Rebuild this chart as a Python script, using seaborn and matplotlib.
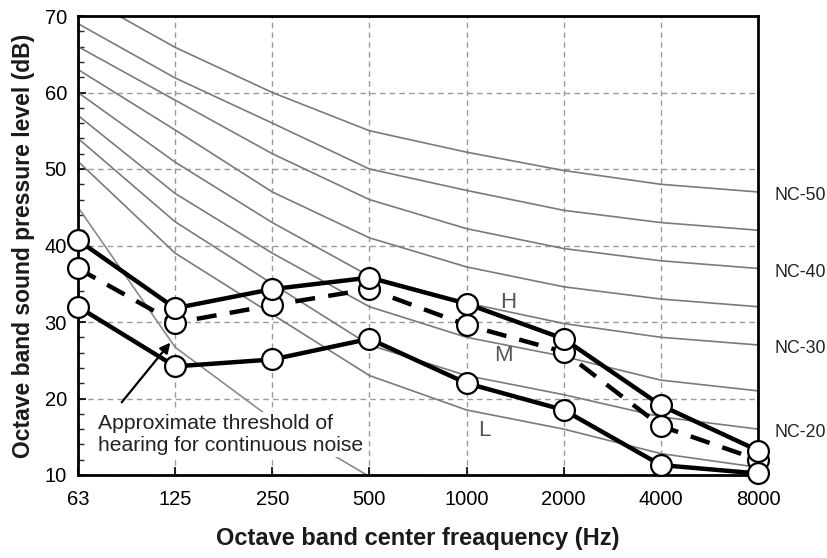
import matplotlib
matplotlib.use("Agg")
import matplotlib.pyplot as plt
import matplotlib.transforms as mtransforms
from matplotlib.ticker import MultipleLocator, FixedLocator
import numpy as np
import pandas as pd
import seaborn as sns

# ---------------- data ----------------
freq_labels = ["63", "125", "250", "500", "1000", "2000", "4000", "8000"]

nc15 = [51, 39, 31, 23, 18.5, 16, 12.8, 11]
nc20 = [54, 43.1, 35, 27, 23, 20.5, 17.6, 16]
nc25 = [57, 46.8, 39, 32, 28, 25.5, 22.4, 21]
nc30 = [60, 50.9, 43, 36, 32.5, 29.8, 28, 27]
nc35 = [63, 55.1, 47, 41, 37.2, 34.6, 33, 32]
nc40 = [66, 59.0, 52, 46, 42.2, 39.6, 38, 37]
nc45 = [69, 61.9, 56, 50, 47.2, 44.6, 43, 42]
nc50 = [73, 65.9, 60, 55, 52.2, 49.8, 48, 47]
nc_names = ["NC-15", "NC-20", "NC-25", "NC-30", "NC-35", "NC-40", "NC-45", "NC-50"]
nc_labelled = ["NC-50", "NC-40", "NC-30", "NC-20"]

threshold_freqs = ["63", "125", "250", "500"]
threshold = [45, 26.7, 17.3, 9.8]

series_h = [40.7, 31.8, 34.3, 35.8, 32.4, 27.8, 19.1, 13.2]
series_m = [37.0, 29.9, 32.2, 34.3, 29.6, 26.1, 16.4, 12.0]
series_l = [32.0, 24.2, 25.1, 27.8, 22.0, 18.5, 11.3, 10.2]

# ---------------- style ----------------
sns.set_style("white")
plt.rcParams["font.family"] = ["Liberation Sans", "DejaVu Sans"]

fig = plt.figure(figsize=(8.27, 5.58), dpi=100)
ax = fig.add_axes([78 / 827, 1 - 475 / 558, 680 / 827, 459 / 558])

xpos = np.arange(len(freq_labels))
pos_of = {f: i for i, f in enumerate(freq_labels)}

# NC curves
nc_table = pd.DataFrame({
    "x": np.tile(xpos, len(nc_names)),
    "y": np.concatenate([nc15, nc20, nc25, nc30, nc35, nc40, nc45, nc50]),
    "curve": np.repeat(nc_names, len(xpos)),
})
sns.lineplot(data=nc_table, x="x", y="y", hue="curve", units="curve",
             estimator=None, palette=["#7a7a7a"] * len(nc_names),
             linewidth=1.2, legend=False, ax=ax, zorder=2)

# threshold of hearing curve
sns.lineplot(x=[pos_of[f] for f in threshold_freqs], y=threshold,
             color="#8a8a8a", linewidth=1.2, ax=ax, zorder=2)

# measured spectra
common = dict(marker="o", markersize=15, markerfacecolor="white",
              markeredgecolor="black", markeredgewidth=1.6,
              color="black", linewidth=3.2, clip_on=False, zorder=5)
sns.lineplot(x=xpos, y=series_m, linestyle=(0, (4.5, 3)), ax=ax, **common)
sns.lineplot(x=xpos, y=series_l, ax=ax, **common)
sns.lineplot(x=xpos, y=series_h, ax=ax, **common)

# axes
ax.set_xlim(0, 7)
ax.set_ylim(10, 70)
ax.xaxis.set_major_locator(FixedLocator(xpos))
ax.set_xticklabels(freq_labels)
ax.yaxis.set_major_locator(MultipleLocator(10))
ax.yaxis.set_minor_locator(MultipleLocator(2))
ax.tick_params(axis="both", which="major", direction="in", length=6, width=1.2,
               labelsize=14.5, colors="black")
ax.tick_params(axis="x", which="major", pad=11)
ax.tick_params(axis="y", which="major", pad=8)
ax.tick_params(axis="y", which="minor", direction="in", length=4, width=1, left=True)
ax.tick_params(axis="x", which="major", bottom=True)
ax.tick_params(axis="y", which="major", left=True)
ax.grid(True, which="major", color="#9a9a9a", linestyle=(0, (4, 3)), linewidth=1)
ax.set_axisbelow(True)
for s in ax.spines.values():
    s.set_color("black")
    s.set_linewidth(2)
    s.set_visible(True)

ax.set_xlabel("Octave band center freaquency (Hz)", fontsize=17, fontweight="bold",
              labelpad=13, color="#1a1a1a")
ax.set_ylabel("Octave band sound pressure level (dB)", fontsize=16.5, fontweight="bold",
              labelpad=7, color="#1a1a1a")

# NC labels at right
trans = mtransforms.blended_transform_factory(ax.transAxes, ax.transData)
nc_last = dict(zip(nc_names, [c[-1] for c in [nc15, nc20, nc25, nc30, nc35, nc40, nc45, nc50]]))
for name in nc_labelled:
    ax.text(1.024, nc_last[name] - 0.5, name, transform=trans, ha="left", va="center",
            fontsize=12.8, color="#222222", clip_on=False)

# H / M / L labels
ax.text(4.43, 32.6, "H", fontsize=16, color="#555555", ha="center", va="center", zorder=6)
ax.text(4.38, 25.6, "M", fontsize=16, color="#555555", ha="center", va="center", zorder=6)
ax.text(4.18, 15.8, "L", fontsize=16, color="#555555", ha="center", va="center", zorder=6)

# annotation
ax.text(0.21, 15.3, "Approximate threshold of\nhearing for continuous noise",
        fontsize=15.2, color="#222222", ha="left", va="center", linespacing=1.25,
        bbox=dict(facecolor="white", edgecolor="none", pad=1), zorder=4)
ax.annotate("", xy=(0.95, 27.3), xytext=(0.45, 19.5),
            arrowprops=dict(arrowstyle="-|>,head_length=0.6,head_width=0.3",
                            color="black", lw=1.6, shrinkA=0, shrinkB=0), zorder=6)

fig.savefig("out.png", dpi=100)
